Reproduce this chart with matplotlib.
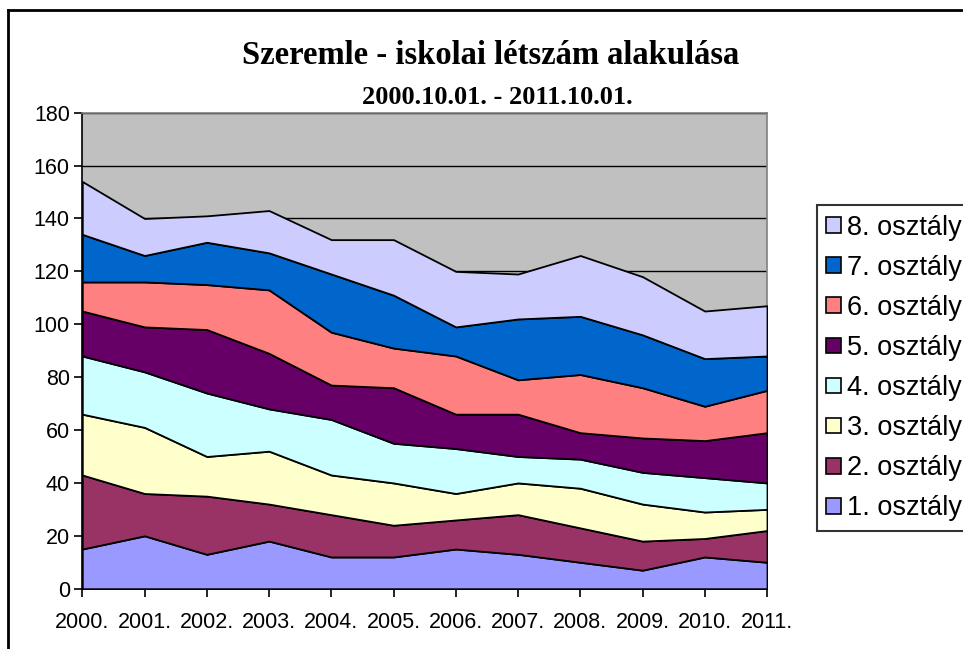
import matplotlib
matplotlib.use("Agg")
import matplotlib.pyplot as plt
from matplotlib.lines import Line2D

years = ["2000.", "2001.", "2002.", "2003.", "2004.", "2005.", "2006.",
         "2007.", "2008.", "2009.", "2010.", "2011."]
osztaly_1 = [15, 20, 13, 18, 12, 12, 15, 13, 10, 7, 12, 10]
osztaly_2 = [28, 16, 22, 14, 16, 12, 11, 15, 13, 11, 7, 12]
osztaly_3 = [23, 25, 15, 20, 15, 16, 10, 12, 15, 14, 10, 8]
osztaly_4 = [22, 21, 24, 16, 21, 15, 17, 10, 11, 12, 13, 10]
osztaly_5 = [17, 17, 24, 21, 13, 21, 13, 16, 10, 13, 14, 19]
osztaly_6 = [11, 17, 17, 24, 20, 15, 22, 13, 22, 19, 13, 16]
osztaly_7 = [18, 10, 16, 14, 22, 20, 11, 23, 22, 20, 18, 13]
osztaly_8 = [20, 14, 10, 16, 13, 21, 21, 17, 23, 22, 18, 19]
labels = ["1. osztály", "2. osztály", "3. osztály", "4. osztály",
          "5. osztály", "6. osztály", "7. osztály", "8. osztály"]
colors = ["#9999FF", "#993366", "#FFFFCC", "#CCFFFF",
          "#660066", "#FF8080", "#0066CC", "#CCCCFF"]
series = [osztaly_1, osztaly_2, osztaly_3, osztaly_4,
          osztaly_5, osztaly_6, osztaly_7, osztaly_8]

W, H = 963, 649
fig = plt.figure(figsize=(W / 100, H / 100), dpi=100)
fig.patch.set_facecolor("white")

left, right, top, bottom = 82.3, 767.0, 112.7, 588.7
ax = fig.add_axes([left / W, 1 - bottom / H, (right - left) / W, (bottom - top) / H])
ax.set_facecolor("#C0C0C0")

x = list(range(len(years)))
polys = ax.stackplot(x, *series, colors=colors, edgecolor="black", linewidth=1.3, zorder=3)

ax.set_xlim(0, len(years) - 1)
ax.set_ylim(0, 180)
ax.set_yticks(range(0, 181, 20))
ax.set_xticks(x)
ax.set_xticklabels(years)
ax.yaxis.grid(True, color="black", linewidth=1.0, zorder=1)
ax.set_axisbelow(True)

for s in ["left", "bottom"]:
    ax.spines[s].set_color("black")
    ax.spines[s].set_linewidth(1.2)
for s in ["top", "right"]:
    ax.spines[s].set_color("#808080")
    ax.spines[s].set_linewidth(1.2)

ax.tick_params(axis="both", direction="out", length=6, width=1.2, color="black",
               labelsize=15.5, labelcolor="black")
ax.tick_params(axis="y", pad=3)
ax.tick_params(axis="x", pad=11)
for t in ax.get_xticklabels() + ax.get_yticklabels():
    t.set_fontfamily("Liberation Sans")

fig.text(491 / W, 1 - 64 / H, "Szeremle - iskolai létszám alakulása",
         ha="center", va="baseline", fontfamily="Liberation Serif",
         fontweight="bold", fontsize=23.5)
fig.text(497 / W, 1 - 104 / H, "2000.10.01. - 2011.10.01.",
         ha="center", va="baseline", fontfamily="Liberation Serif",
         fontweight="bold", fontsize=19)

handles = [plt.Rectangle((0, 0), 1, 1, facecolor=c, edgecolor="black", linewidth=1.2)
           for c in colors]
leg = fig.legend(handles[::-1], labels[::-1], loc="upper left",
                 bbox_to_anchor=(816.7 / W, 1 - 205 / H),
                 prop={"family": "Liberation Sans", "size": 19.5},
                 frameon=True, fancybox=False, edgecolor="black",
                 handlelength=0.52, handleheight=0.52, handletextpad=0.25,
                 labelspacing=0.52, borderpad=0.36, borderaxespad=0)
leg.get_frame().set_linewidth(1.5)

# outer chart border (left and top visible)
fig.add_artist(Line2D([8 / W, 8 / W], [0, 1 - 10 / H], transform=fig.transFigure,
                      color="black", linewidth=2))
fig.add_artist(Line2D([8 / W, 1], [1 - 10 / H, 1 - 10 / H], transform=fig.transFigure,
                      color="black", linewidth=2))

fig.savefig("out.png", dpi=100)
